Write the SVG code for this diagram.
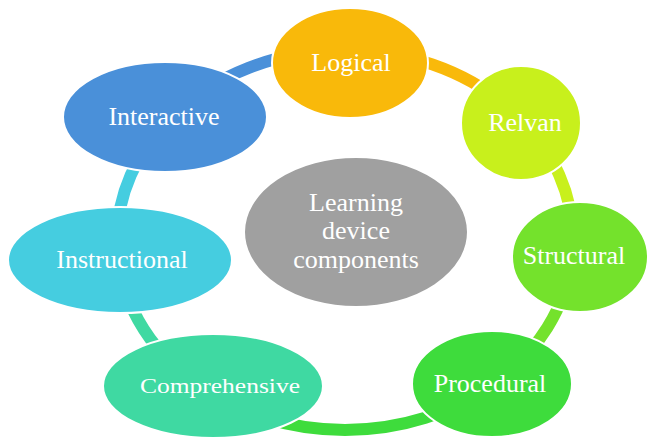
<svg xmlns="http://www.w3.org/2000/svg" width="654" height="437" viewBox="0 0 654 437">
<style>
.ring{fill:none;stroke-width:12}
.node{stroke:#ffffff;stroke-width:2}
.lbl{font-family:"Liberation Serif","Times New Roman",serif;font-size:26px;fill:#ffffff;text-anchor:middle}
</style>
<rect width="654" height="437" fill="#ffffff"/>
<g id="connectors">
<path class="ring" stroke="#4A90D9" d="M170.4,117.9 A228,190 0 0 1 345,50"/>
<path class="ring" stroke="#F9B90A" d="M345,50 A228,190 0 0 1 506.2,105.6"/>
<path class="ring" stroke="#C8F01C" d="M506.2,105.6 A228,190 0 0 1 572.1,256.6"/>
<path class="ring" stroke="#74E22C" d="M572.1,256.6 A228,190 0 0 1 491.6,385.5"/>
<path class="ring" stroke="#3EDC3C" d="M491.6,385.5 A228,190 0 0 1 198.4,385.5"/>
<path class="ring" stroke="#3FD9A2" d="M198.4,385.5 A228,190 0 0 1 117,240"/>
<path class="ring" stroke="#45CDE0" d="M117,240 A228,190 0 0 1 170.4,117.9"/>
</g>
<g id="center">
<ellipse class="node" cx="356" cy="232" rx="112" ry="75" fill="#A0A0A0"/>
<text class="lbl" x="356" y="211">Learning</text>
<text class="lbl" x="356" y="239">device</text>
<text class="lbl" x="356" y="268">components</text>
</g>
<g id="logical">
<ellipse class="node" cx="350" cy="63" rx="78" ry="55" fill="#F9B90A"/>
<text class="lbl" x="351" y="71">Logical</text>
</g>
<g id="relvan">
<ellipse class="node" cx="521" cy="123" rx="60" ry="57" fill="#C8F01C"/>
<text class="lbl" x="525" y="131">Relvan</text>
</g>
<g id="structural">
<ellipse class="node" cx="580" cy="257" rx="68" ry="55" fill="#74E22C"/>
<text class="lbl" x="574" y="264">Structural</text>
</g>
<g id="procedural">
<ellipse class="node" cx="492" cy="384" rx="80" ry="53" fill="#3EDC3C"/>
<text class="lbl" x="490" y="392">Procedural</text>
</g>
<g id="comprehensive">
<ellipse class="node" cx="213" cy="386" rx="110" ry="52" fill="#3FD9A2"/>
<text class="lbl" x="220" y="393" style="font-size:22px" textLength="160" lengthAdjust="spacingAndGlyphs">Comprehensive</text>
</g>
<g id="instructional">
<ellipse class="node" cx="120" cy="260" rx="112" ry="53" fill="#45CDE0"/>
<text class="lbl" x="122" y="268">Instructional</text>
</g>
<g id="interactive">
<ellipse class="node" cx="165" cy="117" rx="102" ry="55" fill="#4A90D9"/>
<text class="lbl" x="164" y="125">Interactive</text>
</g>
</svg>
